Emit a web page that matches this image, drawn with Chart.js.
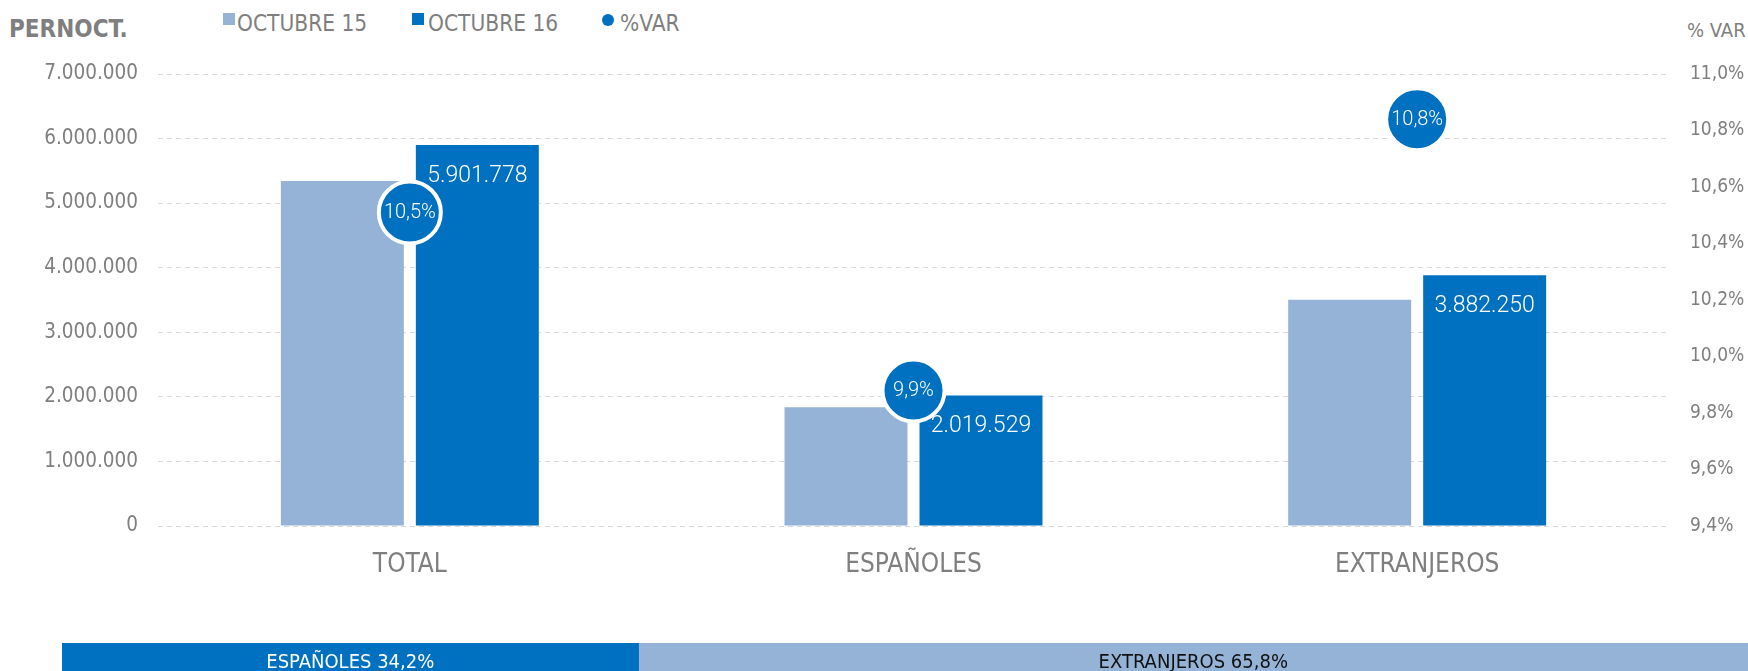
<!DOCTYPE html>
<html lang="es">
<head>
<meta charset="UTF-8">
<title>Pernoctaciones octubre</title>
<style>
    html, body {
        margin: 0;
        padding: 0;
        background: #ffffff;
        overflow: hidden;
        width: 1748px;
        height: 671px;
    }
    body {
        position: relative;
        font-family: "DejaVu Sans Condensed", "DejaVu Sans", sans-serif;
        font-stretch: semi-condensed;
        color: #7f7f7f;
    }
    .lbl {
        position: absolute;
        white-space: nowrap;
        line-height: 1;
    }
    #mainWrap {
        position: absolute;
        left: 0;
        top: 0;
        width: 1748px;
        height: 620px;
    }
    #stripWrap {
        position: absolute;
        left: 0;
        top: 643px;
        width: 1748px;
        height: 40px;
    }
    .swatch {
        position: absolute;
        width: 12px;
        height: 12px;
    }
</style>
<script src="https://cdn.jsdelivr.net/npm/chart.js"></script>
</head>
<body>

<div class="lbl" id="yTitle" style="left:9px; top:17px; font-size:24px; font-weight:bold;"></div>
<div class="swatch" id="sw0" style="left:223px; top:13px;"></div>
<div class="lbl" id="lg0" style="left:237px; top:12px; font-size:22.5px;"></div>
<div class="swatch" id="sw1" style="left:412px; top:13px;"></div>
<div class="lbl" id="lg1" style="left:428px; top:12px; font-size:22.5px;"></div>
<div class="swatch" id="sw2" style="left:602px; top:14px; border-radius:50%;"></div>
<div class="lbl" id="lg2" style="left:620px; top:12px; font-size:22.5px;"></div>
<div class="lbl" id="y1Title" style="left:1687px; top:20px; font-size:20px;"></div>

<div id="mainWrap"><canvas id="mainChart"></canvas></div>
<div id="stripWrap"><canvas id="stripChart"></canvas></div>

<script>
    // chart data
    const categories = ['TOTAL', 'ESPAÑOLES', 'EXTRANJEROS'];
    const seriesNames = ['OCTUBRE 15', 'OCTUBRE 16', '%VAR'];
    const octubre15 = [5341000, 1838000, 3504000];
    const octubre16 = [5901778, 2019529, 3882250];
    const varPct = [10.51, 9.88, 10.84];
    const leftTitle = 'PERNOCT.';
    const rightTitle = '% VAR';

    // bottom strip: share of total
    const shareNames = ['ESPAÑOLES', 'EXTRANJEROS'];
    const shareValues = [34.2, 65.8];

    const lightBlue = '#95B3D7';
    const darkBlue = '#0070C0';
    const narrow = '"DejaVu Sans Condensed", "DejaVu Sans", sans-serif';

    function fmtInt(v) {
        return String(Math.round(v)).replace(/\B(?=(\d{3})+(?!\d))/g, '.');
    }
    function fmtPct(v) {
        return v.toFixed(1).replace('.', ',') + '%';
    }

    // html legend
    document.getElementById('yTitle').textContent = leftTitle;
    document.getElementById('y1Title').textContent = rightTitle;
    document.getElementById('lg0').textContent = seriesNames[0];
    document.getElementById('lg1').textContent = seriesNames[1];
    document.getElementById('lg2').textContent = seriesNames[2];
    document.getElementById('sw0').style.background = lightBlue;
    document.getElementById('sw1').style.background = darkBlue;
    document.getElementById('sw2').style.background = darkBlue;

    // labels inside the OCTUBRE 16 bars (drawn before the circles)
    const barLabels = {
        id: 'barLabels',
        afterDatasetDraw(chart, args) {
            if (args.index !== 1) return;
            const ctx = chart.ctx;
            ctx.save();
            ctx.fillStyle = '#ffffff';
            ctx.font = '300 23px Roboto, "Open Sans", sans-serif';
            ctx.textAlign = 'center';
            ctx.textBaseline = 'middle';
            args.meta.data.forEach((bar, i) => {
                ctx.fillText(fmtInt(octubre16[i]), bar.x, bar.y + 31);
            });
            ctx.restore();
        }
    };

    // labels inside the %VAR circles
    const varLabels = {
        id: 'varLabels',
        afterDatasetsDraw(chart) {
            const meta = chart.getDatasetMeta(2);
            const ctx = chart.ctx;
            ctx.save();
            ctx.fillStyle = '#ffffff';
            ctx.font = '300 20px Roboto, "Open Sans", sans-serif';
            ctx.textAlign = 'center';
            ctx.textBaseline = 'middle';
            meta.data.forEach((pt, i) => {
                ctx.fillText(fmtPct(varPct[i]), pt.x, pt.y + 1);
            });
            ctx.restore();
        }
    };

    const mainCtx = document.getElementById('mainChart').getContext('2d');
    const mainChart = new Chart(mainCtx, {
        type: 'bar',
        data: {
            labels: categories,
            datasets: [
                {
                    label: seriesNames[0],
                    data: octubre15,
                    backgroundColor: lightBlue,
                    categoryPercentage: 0.536,
                    barPercentage: 0.911,
                    yAxisID: 'y',
                    order: 1
                },
                {
                    label: seriesNames[1],
                    data: octubre16,
                    backgroundColor: darkBlue,
                    categoryPercentage: 0.536,
                    barPercentage: 0.911,
                    yAxisID: 'y',
                    order: 1
                },
                {
                    type: 'line',
                    label: seriesNames[2],
                    data: varPct,
                    showLine: false,
                    pointRadius: 31,
                    pointHoverRadius: 31,
                    pointBackgroundColor: darkBlue,
                    pointBorderColor: '#ffffff',
                    pointBorderWidth: 4,
                    yAxisID: 'y1',
                    order: 0
                }
            ]
        },
        options: {
            responsive: true,
            maintainAspectRatio: false,
            animation: false,
            layout: { padding: { top: 74, left: 0, right: 0, bottom: 0 } },
            plugins: {
                legend: { display: false },
                tooltip: { enabled: false }
            },
            scales: {
                x: {
                    grid: { display: false, drawTicks: false },
                    border: { display: false },
                    ticks: {
                        color: '#7f7f7f',
                        font: { family: narrow, size: 26 },
                        padding: 24
                    },
                    afterFit(scale) { scale.height = 94; }
                },
                y: {
                    position: 'left',
                    min: 0,
                    max: 7000000,
                    ticks: {
                        stepSize: 1000000,
                        color: '#7f7f7f',
                        font: { family: narrow, size: 20.5 },
                        padding: 20,
                        callback: v => fmtInt(v)
                    },
                    grid: {
                        color: '#d9d9d9',
                        lineWidth: 1,
                        drawTicks: false
                    },
                    border: { display: false, dash: [5, 4] },
                    afterFit(scale) { scale.width = 158; }
                },
                y1: {
                    position: 'right',
                    min: 9.4,
                    max: 11.0,
                    ticks: {
                        stepSize: 0.2,
                        color: '#7f7f7f',
                        font: { family: narrow, size: 19 },
                        padding: 21,
                        callback: v => fmtPct(v)
                    },
                    grid: { display: false, drawTicks: false },
                    border: { display: false },
                    afterFit(scale) { scale.width = 79; }
                }
            }
        },
        plugins: [barLabels, varLabels]
    });

    // bottom strip labels
    const stripLabels = {
        id: 'stripLabels',
        afterDatasetsDraw(chart) {
            const ctx = chart.ctx;
            ctx.save();
            ctx.font = '20px ' + narrow;
            ctx.textAlign = 'center';
            ctx.textBaseline = 'middle';
            chart.data.datasets.forEach((ds, i) => {
                const bar = chart.getDatasetMeta(i).data[0];
                const left = Math.min(bar.x, bar.base);
                const right = Math.max(bar.x, bar.base);
                ctx.fillStyle = i === 0 ? '#ffffff' : '#111111';
                ctx.fillText(shareNames[i] + ' ' + fmtPct(shareValues[i]), (left + right) / 2, 20);
            });
            ctx.restore();
        }
    };

    const stripCtx = document.getElementById('stripChart').getContext('2d');
    const stripChart = new Chart(stripCtx, {
        type: 'bar',
        data: {
            labels: [''],
            datasets: shareNames.map((name, i) => ({
                label: name,
                data: [shareValues[i]],
                backgroundColor: i === 0 ? darkBlue : lightBlue,
                barPercentage: 1,
                categoryPercentage: 1
            }))
        },
        options: {
            indexAxis: 'y',
            responsive: true,
            maintainAspectRatio: false,
            animation: false,
            layout: { padding: { left: 62, right: 0, top: 0, bottom: 0 } },
            plugins: {
                legend: { display: false },
                tooltip: { enabled: false }
            },
            scales: {
                x: { stacked: true, min: 0, max: 100, display: false },
                y: { stacked: true, display: false }
            }
        },
        plugins: [stripLabels]
    });
</script>
</body>
</html>
